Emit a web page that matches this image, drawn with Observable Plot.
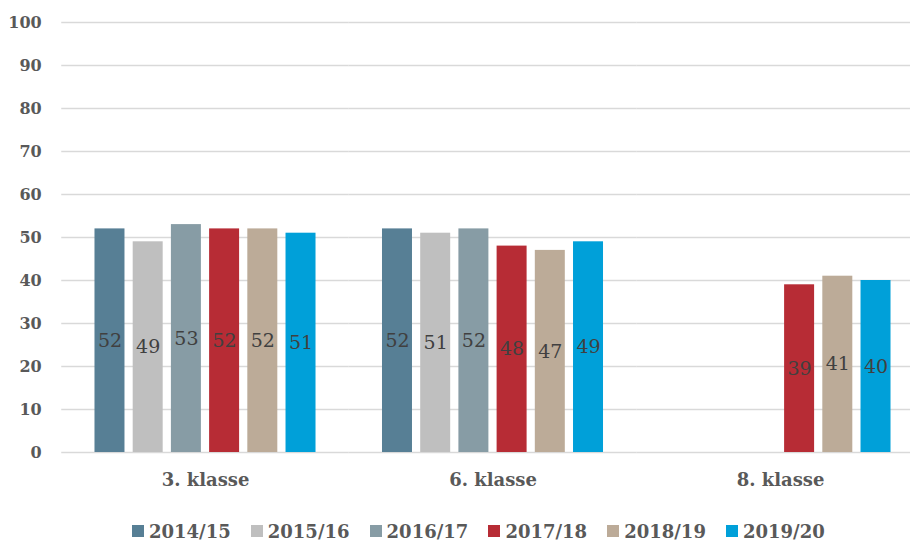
<!DOCTYPE html>
<html>
<head>
<meta charset="utf-8">
<script src="https://cdn.jsdelivr.net/npm/d3@7"></script>
<script src="https://cdn.jsdelivr.net/npm/@observablehq/plot@0.6"></script>
<style>
  html, body { margin: 0; padding: 0; background: #fff; overflow: hidden; width: 910px; height: 542px; }
  #wrap { position: relative; width: 910px; height: 542px; }
  #legend { position: absolute; left: 132px; top: 518px; height: 26px; display: flex; font-family: 'DejaVu Serif', serif; font-weight: bold; font-size: 18px; color: #595959; }
  .item { width: 118.8px; display: flex; align-items: center; flex: none; white-space: nowrap; }
  .sw { width: 12px; height: 12px; margin-right: 5px; flex: none; }
  svg.plot { overflow: visible; max-width: none; }
  svg.plot, svg.plot text { font-family: 'DejaVu Serif', serif !important; }
</style>
</head>
<body>
<div id="wrap">
  <div id="chart"></div>
  <div id="legend"></div>
</div>
<script>
const groups = ["3. klasse", "6. klasse", "8. klasse"];
const years = ["2014/15", "2015/16", "2016/17", "2017/18", "2018/19", "2019/20"];
const colors = ["#577f95", "#bfbfbf", "#879ca5", "#b72c35", "#bcab98", "#00a0d9"];
const values3 = [52, 49, 53, 52, 52, 51];
const values6 = [52, 51, 52, 48, 47, 49];
const values8 = [null, null, null, 39, 41, 40];
const yTicks = [0, 10, 20, 30, 40, 50, 60, 70, 80, 90, 100];

const series = [values3, values6, values8];
const data = [];
groups.forEach((g, i) => years.forEach((yr, j) => {
  const v = series[i][j];
  if (v != null) data.push({group: g, year: yr, value: v});
}));

const font = "'DejaVu Serif', serif";
const chart = Plot.plot({
  width: 910,
  height: 505,
  marginTop: 22,
  marginBottom: 53,
  marginLeft: 61,
  marginRight: 0,
  style: {fontFamily: font, background: "#fff", overflow: "visible"},
  fx: {domain: groups, range: [61.25, 923.75], padding: 0, label: null, round: false},
  x: {domain: years, paddingInner: 0.215, paddingOuter: 0.87, axis: null, round: false},
  y: {domain: [0, 100], label: null},
  color: {domain: years, range: colors},
  marks: [
    Plot.gridY(yTicks, {stroke: "#d9d9d9", strokeOpacity: 1, strokeWidth: 1.4}),
    Plot.axisY(yTicks, {tickSize: 0, tickPadding: 20, label: null, fontSize: 16, fontWeight: "bold", fill: "#595959"}),
    Plot.barY(data, {fx: "group", x: "year", y: "value", fill: "year"}),
    Plot.text(data, {fx: "group", x: "year", y: d => d.value / 2, text: "value", fontSize: 19, fill: "#404040"}),
    Plot.axisFx({anchor: "bottom", tickSize: 0, tickPadding: 21, label: null, fontSize: 18, fontWeight: "bold", fill: "#595959"})
  ]
});
document.getElementById("chart").appendChild(chart);

const legend = document.getElementById("legend");
years.forEach((yr, i) => {
  const it = document.createElement("div");
  it.className = "item";
  const sw = document.createElement("span");
  sw.className = "sw";
  sw.style.background = colors[i];
  const t = document.createElement("span");
  t.textContent = yr;
  it.appendChild(sw);
  it.appendChild(t);
  legend.appendChild(it);
});
</script>
</body>
</html>
